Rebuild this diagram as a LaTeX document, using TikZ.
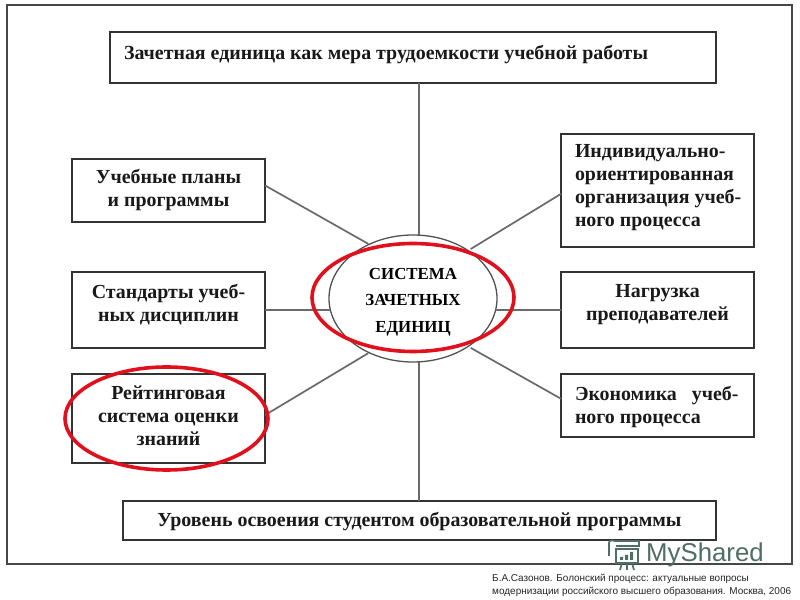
\documentclass[tikz,border=0pt]{standalone}
\usepackage{fontspec}
\setmainfont{Liberation Serif}
\newfontfamily\credit{Liberation Sans}
\usetikzlibrary{shapes.geometric}
\def\u{0.03cm}
\newlength{\pxu}\setlength{\pxu}{0.03cm}
\definecolor{frameink}{HTML}{333333}
\definecolor{wireink}{HTML}{6A6A6A}
\definecolor{redink}{HTML}{E0101C}
\definecolor{brandink}{HTML}{4F6F64}
\newcommand{\boxtxt}[4]{\raisebox{#1\pxu}[0pt][0pt]{\parbox[c]{#2\pxu}{#3\baselineskip=23\pxu #4\par}}}
\tikzset{
 boxnode/.style={draw=frameink,line width=1.9*\u,fill=white,rectangle,inner sep=0pt,outer sep=0pt,font=\bfseries\fontsize{17pt}{19.5pt}\selectfont,text=black!90},
 wire/.style={draw=wireink,line width=1.7*\u},
 hub/.style={ellipse,draw=frameink!85,line width=1.3*\u,fill=white,inner sep=0pt,outer sep=0pt,minimum width=168*\u,minimum height=127*\u,font=\bfseries\fontsize{14.4pt}{19.5pt}\selectfont},
 redring/.style={draw=redink,line width=3.6*\u},
 brand/.style={draw=brandink,line width=1.7*\u},
}
\begin{document}
\begin{tikzpicture}[x=\u,y=-\u]
\useasboundingbox (0,0) rectangle (800,600);
\fill[white] (0,0) rectangle (800,600);
\draw[draw=frameink!90,line width=1.7*\u] (7,5) rectangle (792,564);

\node[boxnode,minimum width=606*\u,minimum height=51*\u] (top) at (413,57.5)
 {\boxtxt{-2.5}{578}{\raggedright}{Зачетная единица как мера трудоемкости учебной работы}};
\node[boxnode,minimum width=193*\u,minimum height=63*\u] (plans) at (168.5,190.5)
 {\boxtxt{-5}{185}{\centering}{Учебные планы\\и программы}};
\node[boxnode,minimum width=193*\u,minimum height=76*\u] (stand) at (168.5,310)
 {\boxtxt{0}{185}{\centering}{Стандарты учеб-\\ных дисциплин}};
\node[boxnode,minimum width=193*\u,minimum height=89*\u] (rate) at (168.5,418.5)
 {\boxtxt{-2.5}{185}{\centering}{Рейтинговая\\система оценки\\знаний}};
\node[boxnode,minimum width=193*\u,minimum height=113*\u] (indiv) at (657.5,190.5)
 {\boxtxt{-2}{165}{\raggedright}{\mbox{Индивидуально-}\\\mbox{ориентированная}\\\mbox{организация\ учеб-}\\ного процесса}};
\node[boxnode,minimum width=193*\u,minimum height=76*\u] (load) at (657.5,310)
 {\boxtxt{0}{185}{\centering}{Нагрузка\\преподавателей}};
\node[boxnode,minimum width=193*\u,minimum height=63*\u] (econ) at (657.5,405.5)
 {\boxtxt{-7}{165}{\raggedright}{\mbox{Экономика\ \ \ учеб-}\\ного процесса}};
\node[boxnode,minimum width=593*\u,minimum height=39*\u] (bottom) at (419.5,520.5)
 {\boxtxt{-6}{585}{\centering}{Уровень освоения студентом образовательной программы}};

\node[hub] (hub) at (413,298.5)
 {\boxtxt{-7.5}{104}{\centering}{СИСТЕМА\\[3.5\pxu]ЗАЧЕТНЫХ\\[3.5\pxu]ЕДИНИЦ}};

\coordinate (vaxis) at (419,0);
\draw[wire] (top.south -| vaxis) -- (hub.north -| vaxis);
\draw[wire] (bottom.north -| vaxis) -- (hub.south -| vaxis);
\draw[wire,shorten >=1\pxu] (plans.3.3) -- (hub.129);
\draw[wire] (stand.east) -- (hub.188);
\draw[wire,shorten >=1\pxu] (rate.2.7) -- (hub.231);
\draw[wire,shorten >=3\pxu] (indiv.182.7) -- (hub.41);
\draw[wire] (load.west) -- (hub.-8);
\draw[wire,shorten >=3\pxu] (econ.176.7) -- (hub.-41);

\draw[redring] (413,297.5) ellipse [x radius=101,y radius=54];
\draw[redring] (166.5,418.5) ellipse [x radius=101.5,y radius=51.5];

% watermark
\node[anchor=west,inner sep=0pt,text=brandink,font=\credit\fontsize{22pt}{24pt}\selectfont] (logo) at (646,555) {MyShared};
\draw[brand] (616,549) rectangle (638,563);
\draw[brand] (609,556) -- (609,543) .. controls (609,540) and (612,540) .. (615,541) -- (639,541) -- (639,546) -- (616,546);
\fill[brandink] (620,557) rectangle (623,560) (625,555) rectangle (628,560) (630,552) rectangle (633,560);
\draw[brand] (622,563) -- (620,570) (632,563) -- (634,570) (627,563) -- (627,570);

\node[anchor=north west,inner sep=0pt,align=left,text=black!85,font=\credit\fontsize{8.5pt}{11pt}\selectfont] (source) at (492,573.5)
 {Б.А.Сазонов. Болонский процесс: актуальные вопросы\\модернизации российского высшего образования. Москва, 2006};
\end{tikzpicture}
\end{document}
